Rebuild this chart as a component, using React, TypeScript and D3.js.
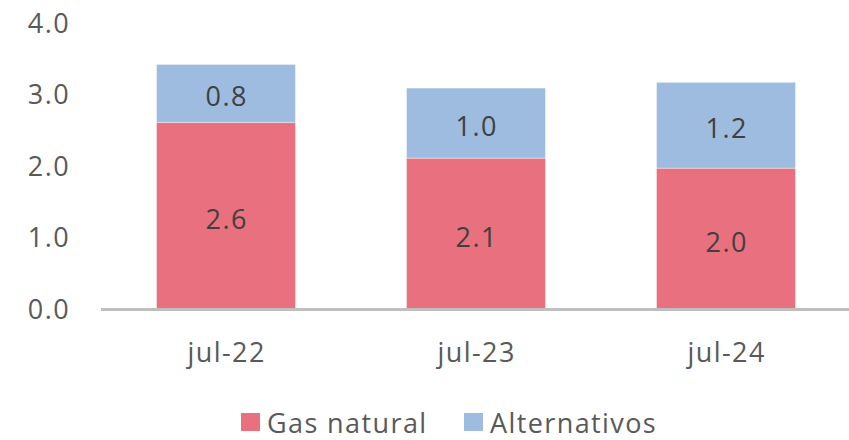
import React, { useEffect, useRef } from "react";
import * as d3 from "d3";

const categories = ["jul-22", "jul-23", "jul-24"];
const gasNatural = [2.61, 2.11, 1.97];
const alternativos = [0.81, 0.98, 1.2];
const yTicks = [0, 1, 2, 3, 4];
const seriesNames = ["Gas natural", "Alternativos"];

const W = 849;
const H = 440;
const FONT = "'Open Sans', Lato, sans-serif";
const FS = 27;
const LS = 1.4;
const colors = ["#E9707E", "#9EBCE0"];

const App = () => {
  const svgRef = useRef<SVGSVGElement>(null);

  useEffect(() => {
    const svg = d3.select(svgRef.current);
    svg.selectAll("*").remove();

    const x = d3
      .scaleBand()
      .domain(categories)
      .range([101, 851])
      .paddingInner(0.444)
      .paddingOuter(0.222);

    const y = d3.scaleLinear().domain([0, 4]).range([309, 23]);

    const rows = categories.map((c, i) => ({
      cat: c,
      gas: gasNatural[i],
      alt: alternativos[i],
    }));

    const stack = d3.stack<any>().keys(["gas", "alt"]);
    const layers = stack(rows);

    // bars + value labels
    const g = svg.append("g");
    layers.forEach((layer, li) => {
      g.append("g")
        .selectAll("rect")
        .data(layer)
        .join("rect")
        .attr("x", (d) => x(d.data.cat)!)
        .attr("width", x.bandwidth())
        .attr("y", (d) => y(d[1]))
        .attr("height", (d) => y(d[0]) - y(d[1]))
        .attr("fill", colors[li])
        .attr("stroke", "#ffffff")
        .attr("stroke-opacity", 0.4)
        .attr("stroke-width", 1);

      g.append("g")
        .selectAll("text")
        .data(layer)
        .join("text")
        .attr("x", (d) => x(d.data.cat)! + x.bandwidth() / 2 + LS / 2)
        .attr("y", (d) => (y(d[0]) + y(d[1])) / 2 + 13)
        .attr("text-anchor", "middle")
        .attr("font-family", FONT)
        .attr("font-size", FS)
        .attr("letter-spacing", LS)
        .attr("fill", "#404040")
        .text((d) => (d[1] - d[0]).toFixed(1));
    });

    // y axis labels
    svg
      .append("g")
      .selectAll("text")
      .data(yTicks)
      .join("text")
      .attr("x", 70)
      .attr("y", (d) => y(d) + 9.5)
      .attr("text-anchor", "end")
      .attr("font-family", FONT)
      .attr("font-size", FS)
      .attr("letter-spacing", LS)
      .attr("fill", "#595959")
      .text((d) => d.toFixed(1));

    // x axis line
    svg
      .append("line")
      .attr("x1", 101)
      .attr("x2", W)
      .attr("y1", y(0) + 0.5)
      .attr("y2", y(0) + 0.5)
      .attr("stroke", "#BFBFBF")
      .attr("stroke-width", 3);

    // category labels
    svg
      .append("g")
      .selectAll("text")
      .data(categories)
      .join("text")
      .attr("x", (d) => x(d)! + x.bandwidth() / 2 + LS / 2)
      .attr("y", 362)
      .attr("text-anchor", "middle")
      .attr("font-family", FONT)
      .attr("font-size", FS)
      .attr("letter-spacing", LS)
      .attr("fill", "#595959")
      .text((d) => d);

    // legend (nudged up a little so the text box stays inside 440px)
    const legendX = [241, 464];
    const lg = svg
      .append("g")
      .selectAll("g")
      .data(seriesNames)
      .join("g")
      .attr("transform", (d, i) => `translate(${legendX[i]},413)`);
    lg.append("rect")
      .attr("width", 19)
      .attr("height", 18)
      .attr("fill", (d, i) => colors[i]);
    lg.append("text")
      .attr("x", 26)
      .attr("y", 19.5)
      .attr("font-family", FONT)
      .attr("font-size", FS)
      .attr("letter-spacing", LS)
      .attr("fill", "#595959")
      .text((d) => d);
  }, []);

  return (
    <svg
      ref={svgRef}
      width={W}
      height={H}
      style={{ position: "absolute", left: 0, top: 0, background: "#fff" }}
    ></svg>
  );
};

export default App;
